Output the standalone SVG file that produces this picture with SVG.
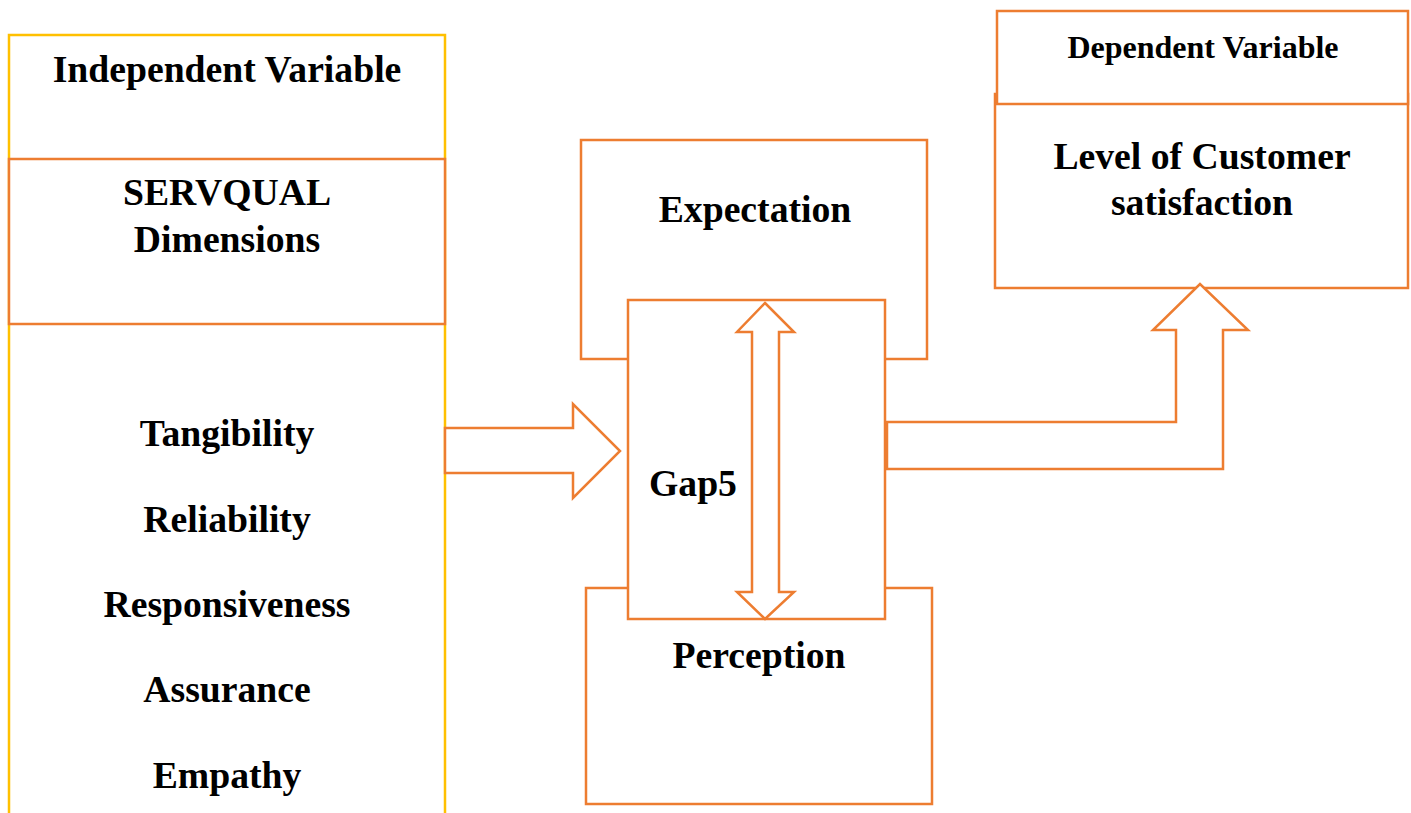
<svg xmlns="http://www.w3.org/2000/svg" width="1411" height="813" viewBox="0 0 1411 813">
<defs>
<style>
.o{fill:#fff;stroke:#ED7D31;stroke-width:2.5}
.y{fill:none;stroke:#FFC000;stroke-width:2.5}
.t{font-family:"Liberation Serif","Times New Roman",serif;font-weight:bold;font-size:37.7px;fill:#000;text-anchor:middle}
.s{font-size:32px}
</style>
</defs>
<rect width="1411" height="813" fill="#fff"/>
<g id="independent">
<path class="y" d="M9,813 V35 H445 V813"/>
<text class="t" x="227" y="82">Independent Variable</text>
</g>
<g id="servqual">
<rect class="o" x="9" y="159" width="436" height="165"/>
<text class="t" x="227" y="205">SERVQUAL</text>
<text class="t" x="227" y="252">Dimensions</text>
</g>
<g id="dimensions">
<text class="t" x="227" y="446">Tangibility</text>
<text class="t" x="227" y="532">Reliability</text>
<text class="t" x="227" y="617">Responsiveness</text>
<text class="t" x="227" y="702">Assurance</text>
<text class="t" x="227" y="788">Empathy</text>
</g>
<g id="expectation">
<rect class="o" x="581" y="140" width="346" height="219"/>
<text class="t" x="755" y="222">Expectation</text>
</g>
<g id="perception">
<rect class="o" x="586" y="588" width="346" height="216"/>
</g>
<g id="gap">
<rect class="o" x="628" y="300" width="257" height="319"/>
<text class="t" x="649" y="496" style="text-anchor:start">Gap5</text>
</g>
<text class="t" x="759" y="668">Perception</text>
<g id="dependent">
<rect class="o" x="995" y="94" width="413" height="194"/>
<rect class="o" x="997" y="11" width="411" height="93"/>
<text class="t s" x="1203" y="58">Dependent Variable</text>
<text class="t" x="1202" y="169">Level of Customer</text>
<text class="t" x="1202" y="215">satisfaction</text>
</g>
<g id="connectors">
<polygon class="o" points="445,428 573,428 573,404 620,451 573,498 573,473 445,473"/>
<polygon class="o" points="765,303 794,332 779,332 779,592 794,592 765,619 737,592 752,592 752,332 737,332"/>
<polygon class="o" points="887,422 1176,422 1176,330 1153,330 1200,284 1248,330 1223,330 1223,469 887,469"/>
</g>
</svg>
